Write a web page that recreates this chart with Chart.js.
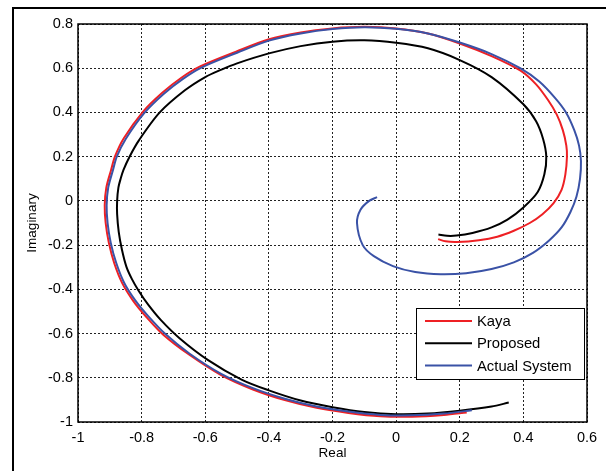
<!DOCTYPE html>
<html>
<head>
<meta charset="utf-8">
<script src="https://cdn.jsdelivr.net/npm/chart.js@4/dist/chart.umd.min.js"></script>
<style>
  html, body { margin: 0; padding: 0; background: #fff; }
  #wrap { position: relative; width: 606px; height: 471px; overflow: hidden; }
  #frame { position: absolute; left: 12px; top: 7px; width: 700px; height: 600px;
           border-left: 2px solid #000; border-top: 2px solid #000; }
  canvas { position: absolute; left: 0; top: 0; }
</style>
</head>
<body>
<div id="wrap">
  <div id="frame"></div>
  <canvas id="c" width="606" height="471"></canvas>
</div>
<script>
// ---- data ----
const seriesNames = ['Kaya', 'Proposed', 'Actual System'];

const kayaX = [0.222, 0.15, 0.05, -0.05, -0.15, -0.25, -0.35, -0.45, -0.55, -0.65, -0.732, -0.785, -0.826, -0.861, -0.886, -0.903, -0.913, -0.916, -0.911, -0.896, -0.884, -0.856, -0.796, -0.736, -0.675, -0.616, -0.503, -0.402, -0.3, -0.2, -0.1, 0.0, 0.1, 0.2, 0.3, 0.39, 0.44, 0.478, 0.505, 0.524, 0.535, 0.537, 0.532, 0.52, 0.495, 0.46, 0.42, 0.37, 0.318, 0.26, 0.192, 0.155, 0.132];
const kayaY = [-0.957, -0.968, -0.976, -0.974, -0.959, -0.936, -0.901, -0.853, -0.788, -0.696, -0.605, -0.525, -0.453, -0.372, -0.282, -0.19, -0.1, -0.02, 0.06, 0.14, 0.2, 0.283, 0.403, 0.488, 0.557, 0.608, 0.675, 0.73, 0.762, 0.78, 0.787, 0.78, 0.757, 0.712, 0.655, 0.59, 0.527, 0.455, 0.39, 0.32, 0.25, 0.2, 0.12, 0.05, -0.01, -0.06, -0.1, -0.135, -0.162, -0.178, -0.186, -0.183, -0.173];

const propX = [0.354, 0.3, 0.2, 0.1, 0.0, -0.1, -0.2, -0.3, -0.4, -0.486, -0.591, -0.68, -0.74, -0.78, -0.81, -0.83, -0.848, -0.862, -0.872, -0.877, -0.877, -0.873, -0.866, -0.857, -0.838, -0.808, -0.743, -0.664, -0.6, -0.549, -0.5, -0.4, -0.3, -0.2, -0.1, 0.0, 0.1, 0.2, 0.3, 0.4, 0.44, 0.462, 0.472, 0.466, 0.445, 0.4, 0.35, 0.3, 0.24, 0.19, 0.16, 0.133];
const propY = [-0.912, -0.93, -0.949, -0.962, -0.965, -0.955, -0.933, -0.903, -0.857, -0.808, -0.72, -0.622, -0.538, -0.468, -0.405, -0.355, -0.297, -0.22, -0.14, -0.06, 0.0, 0.06, 0.1, 0.14, 0.2, 0.275, 0.4, 0.5, 0.56, 0.594, 0.622, 0.667, 0.7, 0.72, 0.726, 0.715, 0.69, 0.637, 0.56, 0.437, 0.36, 0.28, 0.2, 0.12, 0.04, -0.03, -0.085, -0.12, -0.145, -0.157, -0.158, -0.152];

const actX = [0.238, 0.15, 0.05, -0.05, -0.15, -0.25, -0.35, -0.45, -0.55, -0.65, -0.727, -0.78, -0.82, -0.855, -0.88, -0.897, -0.907, -0.91, -0.905, -0.89, -0.878, -0.85, -0.79, -0.73, -0.67, -0.612, -0.5, -0.4, -0.3, -0.2, -0.1, 0.0, 0.1, 0.2, 0.3, 0.39, 0.45, 0.5, 0.534, 0.56, 0.575, 0.581, 0.578, 0.567, 0.548, 0.52, 0.48, 0.43, 0.37, 0.3, 0.22, 0.14, 0.06, -0.01, -0.07, -0.105, -0.123, -0.112, -0.085, -0.06];
const actY = [-0.947, -0.962, -0.97, -0.968, -0.953, -0.93, -0.895, -0.847, -0.782, -0.69, -0.6, -0.52, -0.45, -0.37, -0.28, -0.19, -0.1, -0.02, 0.06, 0.14, 0.2, 0.28, 0.4, 0.485, 0.552, 0.603, 0.67, 0.725, 0.757, 0.777, 0.785, 0.778, 0.757, 0.716, 0.664, 0.6, 0.54, 0.465, 0.4, 0.32, 0.25, 0.18, 0.1, 0.02, -0.05, -0.12, -0.18, -0.235, -0.278, -0.308, -0.327, -0.332, -0.322, -0.295, -0.25, -0.2, -0.1, -0.04, 0.0, 0.017];

const xTicks = [-1, -0.8, -0.6, -0.4, -0.2, 0, 0.2, 0.4, 0.6];
const xTickLabels = ['-1', '-0.8', '-0.6', '-0.4', '-0.2', '0', '0.2', '0.4', '0.6'];
const yTicks = [-1, -0.8, -0.6, -0.4, -0.2, 0, 0.2, 0.4, 0.6, 0.8];
const yTickLabels = ['-1', '-0.8', '-0.6', '-0.4', '-0.2', '0', '0.2', '0.4', '0.6', '0.8'];

const xTitle = 'Real';
const yTitle = 'Imaginary';

// ---- build ----
const zip = (xs, ys) => xs.map((x, i) => ({ x: x, y: ys[i] }));
const FONT = '"Liberation Sans", Arial, sans-serif';

const framePlugin = {
  id: 'framePlugin',
  afterDatasetsDraw(chart) {
    const { ctx, chartArea: a } = chart;
    ctx.save();
    ctx.strokeStyle = '#000';
    ctx.lineWidth = 1.5;
    ctx.strokeRect(a.left, a.top, a.right - a.left, a.bottom - a.top);

    // legend box (inside lower right)
    const bx = 416, by = 308, bw = 168, bh = 71;
    ctx.fillStyle = '#fff';
    ctx.fillRect(bx, by, bw, bh);
    ctx.lineWidth = 1;
    ctx.strokeRect(bx + 0.5, by + 0.5, bw, bh);
    ctx.font = '14.8px ' + FONT;
    ctx.textBaseline = 'middle';
    ctx.textAlign = 'left';
    chart.data.datasets.forEach((ds, i) => {
      const yy = by + 13 + i * 22.3;
      ctx.strokeStyle = ds.borderColor;
      ctx.lineWidth = 2;
      ctx.beginPath();
      ctx.moveTo(bx + 9, yy);
      ctx.lineTo(bx + 56, yy);
      ctx.stroke();
      ctx.fillStyle = '#000';
      ctx.fillText(ds.label, bx + 61, yy + 1);
    });

    // axis titles
    ctx.fillStyle = '#000';
    ctx.font = '13.5px ' + FONT;
    ctx.textAlign = 'center';
    ctx.textBaseline = 'middle';
    ctx.fillText(xTitle, (a.left + a.right) / 2, 453);
    ctx.translate(32, (a.top + a.bottom) / 2);
    ctx.rotate(-Math.PI / 2);
    ctx.fillText(yTitle, 0, 0);
    ctx.restore();
  }
};

const common = { showLine: true, pointRadius: 0, borderWidth: 2, tension: 0.3, fill: false };

new Chart(document.getElementById('c'), {
  type: 'scatter',
  data: {
    datasets: [
      Object.assign({ label: seriesNames[0], data: zip(kayaX, kayaY), borderColor: '#ee2024', order: 2 }, common),
      Object.assign({ label: seriesNames[1], data: zip(propX, propY), borderColor: '#000000', order: 1 }, common),
      Object.assign({ label: seriesNames[2], data: zip(actX, actY), borderColor: '#3a52a6', order: 0 }, common)
    ]
  },
  options: {
    responsive: false,
    animation: false,
    devicePixelRatio: 1,
    layout: { padding: { left: 0, top: 24, right: 19, bottom: 0 } },
    plugins: { legend: { display: false }, tooltip: { enabled: false } },
    scales: {
      x: {
        type: 'linear', min: -1, max: 0.6,
        afterBuildTicks: s => { s.ticks = xTicks.map(v => ({ value: v })); },
        afterFit: s => { s.height = 49; },
        ticks: {
          color: '#000', padding: 7, maxRotation: 0, autoSkip: false,
          font: { family: FONT, size: 14.5 },
          callback: (v, i) => xTickLabels[i]
        },
        grid: { color: '#222', lineWidth: 1, drawTicks: false },
        border: { display: false, dash: [2, 2] }
      },
      y: {
        type: 'linear', min: -1, max: 0.8,
        afterBuildTicks: s => { s.ticks = yTicks.map(v => ({ value: v })); },
        afterFit: s => { s.width = 78; },
        ticks: {
          color: '#000', padding: 5, autoSkip: false,
          font: { family: FONT, size: 14.5 },
          callback: (v, i) => yTickLabels[i]
        },
        grid: { color: '#222', lineWidth: 1, drawTicks: false },
        border: { display: false, dash: [2, 2] }
      }
    }
  },
  plugins: [framePlugin]
});
</script>
</body>
</html>
